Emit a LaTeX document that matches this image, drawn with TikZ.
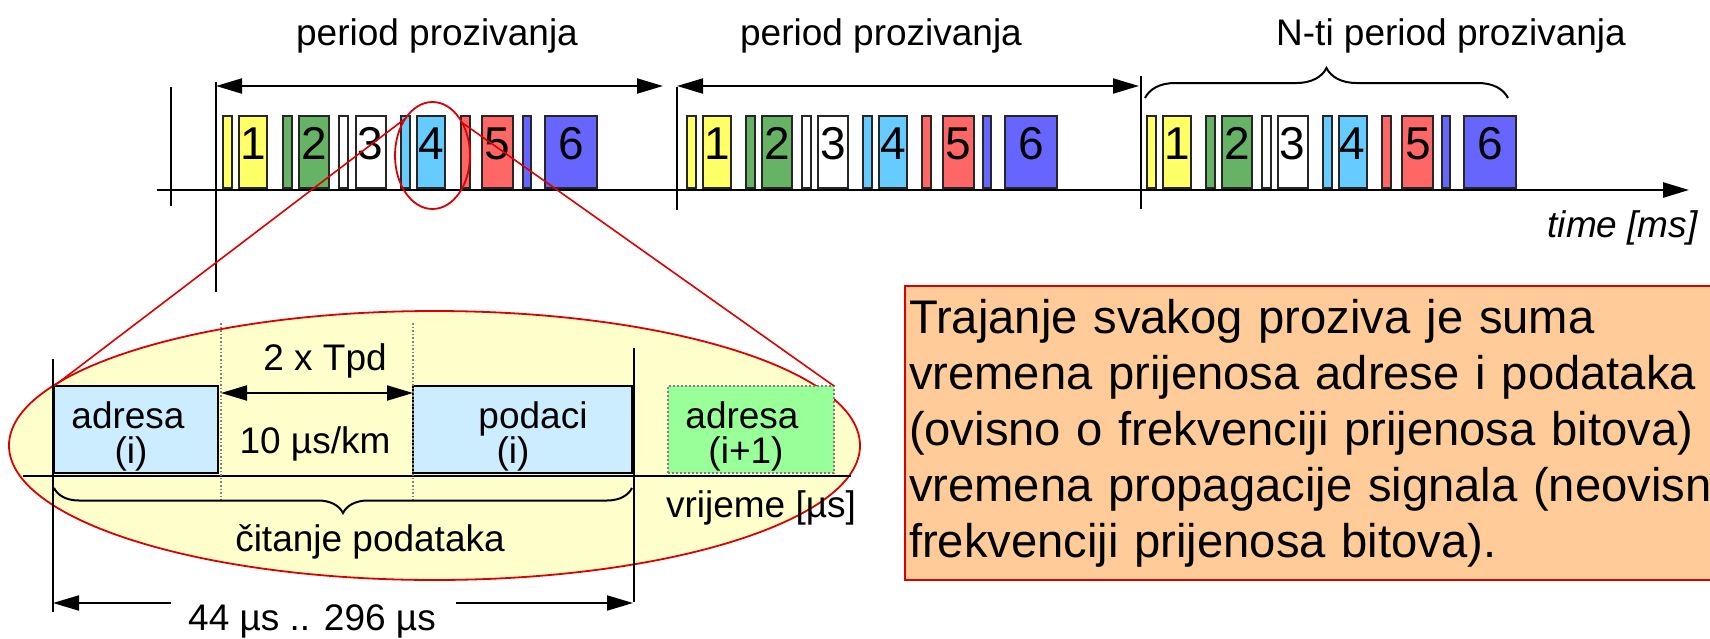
\documentclass[tikz,border=0pt]{standalone}
\usepackage{fontspec}
\setmainfont{Liberation Sans}
\usetikzlibrary{arrows.meta,shapes.geometric,decorations.pathreplacing}
\definecolor{cYel}{HTML}{FFFF66}
\definecolor{cGrn}{HTML}{66B366}
\definecolor{cCyn}{HTML}{66CCFF}
\definecolor{cRed}{HTML}{FF6666}
\definecolor{cBlu}{HTML}{6666FF}
\definecolor{cLtBlu}{HTML}{CCECFF}
\definecolor{cLtGrn}{HTML}{99FF99}
\definecolor{cZoom}{HTML}{DD0000}
\definecolor{cZoomBg}{HTML}{FFFFCC}
\definecolor{cNote}{HTML}{FFCC99}
\tikzset{
  slot/.style={draw=black!85, line width=1pt},
  digit/.style={font=\fontsize{23}{26}\selectfont, anchor=base, inner sep=0pt},
  lbl/.style={font=\fontsize{18.5}{21}\selectfont, anchor=base, inner sep=0pt},
  blk/.style={draw, line width=1pt, anchor=north west, inner sep=0pt, outer sep=0pt},
  tick/.style={line width=1pt},
  axis/.style={line width=1.3pt, -{Triangle[length=13pt,width=7.5pt]}},
  span/.style={{Triangle[length=13pt,width=7.5pt]}-{Triangle[length=13pt,width=7.5pt]}, line width=1pt},
  dimarr/.style={-{Triangle[length=13pt,width=7.5pt]}, line width=1pt},
  guide/.style={draw=gray, densely dotted, line width=0.8pt},
  brc/.style={decorate, line width=1pt},
  zoomell/.style={ellipse, draw=cZoom, line width=0.9pt, inner sep=0pt, outer sep=0pt},
  zoomln/.style={draw=cZoom, line width=0.8pt},
  notebox/.style={draw=cZoom, fill=cNote, line width=1pt, anchor=north west, align=left,
    text width=440pt, inner xsep=2pt, inner ysep=6.5pt,
    font=\fontsize{23.6}{28}\selectfont},
}

\begin{document}
\begin{tikzpicture}[x=0.5pt, y=-0.5pt]
    \useasboundingbox (0,0) rectangle (1710,638);
    \clip (0,0) rectangle (1710,638);
    % --- polling periods on the time axis ---
    \foreach \s/\f [count=\p] in {223/1.012, 687/1, 1147/0.998}{
      \foreach \o/\v/\q/\w/\col/\n in {0/9/16/28/cYel/1, 59/9/75/30/cGrn/2,
          115/9/131/30/white/3, 176/9/192/28/cCyn/4, 235/9/256/31/cRed/5,
          296/8/318/52/cBlu/6}{
        \draw[slot, fill=\col] (\s+\f*\o,116) rectangle (\s+\f*\o+\v,188);
        \draw[slot, fill=\col] (\s+\f*\q,116) rectangle (\s+\f*\q+\w,188);
        \node[digit] (d\p-\n) at (\s+\f*\q+\w/2,159) {\n};
      }
    }
    \draw[axis] (157,190) -- (1689,190);
    \draw[tick] (171,87) -- (171,206);
    \draw[tick] (216,82) -- (216,292);
    \draw[tick] (677,87) -- (677,210);
    \draw[tick] (1141,76) -- (1141,209);
    \draw[span] (216,86) -- (663,86);
    \draw[span] (677,86) -- (1139,86);
    \draw[brc, decoration={brace, amplitude=15pt}] (1145,98) -- (1508,98);
    \node[lbl] (per1) at (437,45) {period prozivanja};
    \node[lbl] (per2) at (881,45) {period prozivanja};
    \node[lbl] (perN) at (1451,45) {N-ti period prozivanja};
    \node[lbl, anchor=base east, font=\fontsize{18.5}{21}\selectfont\itshape] (tms) at (1698,237) {time [ms]};
    % --- zoomed poll ---
    \node[zoomell, minimum width=425.5pt, minimum height=134.5pt, fill=cZoomBg] (zbig) at (434.5,445.5) {};
    \node[blk, fill=cLtBlu, minimum width=82pt, minimum height=43.5pt] (adr) at (54,386) {};
    \node[blk, fill=cLtBlu, minimum width=109.5pt, minimum height=43.5pt] (pod) at (413,386) {};
    \node[blk, fill=cLtGrn, draw=gray, densely dotted, line width=0.8pt,
      minimum width=83pt, minimum height=43.5pt] (nxt) at (668,386) {};
    \draw[tick] (23,476) -- (851,476);
    \draw[guide] (221,323) -- (221,502);
    \draw[guide] (413,323) -- (413,502);
    \draw[tick] (53,359) -- (53,612);
    \draw[tick] (634,348) -- (634,602);
    \draw[span] (221,393) -- (413,393);
    \draw[brc, decoration={brace, mirror, amplitude=12.5pt}] (54,488) -- (632,488);
    \node[lbl] (adrT) at (128,428) {adresa};
    \node[lbl] (adrI) at (131,463) {(i)};
    \node[lbl] (podT) at (533,428) {podaci};
    \node[lbl] (podI) at (513,463) {(i)};
    \node[lbl] (nxtT) at (742,428) {adresa};
    \node[lbl] (nxtI) at (746,463) {(i+1)};
    \node[lbl] (tpd) at (325,370) {2 x Tpd};
    \node[lbl] (prop) at (315,453) {10 µs/km};
    \node[lbl] (vrij) at (761,517) {vrijeme [µs]};
    \node[lbl] (cit) at (370,551) {čitanje podataka};
    \node[lbl] (dur) at (312,630) {44 µs .. 296 µs};
    \coordinate (durL) at (53,603);
    \coordinate (durR) at (633,603);
    \draw[dimarr] (171,603) -- (durL);
    \draw[dimarr] (456,603) -- (durR);
    % --- zoom marker and its lines ---
    \node[zoomell, minimum width=37.5pt, minimum height=53.5pt] (zsmall) at (432.5,155.5) {};
    \draw[zoomln] (zsmall.126) -- (adr.north west);
    \draw[zoomln] (zsmall.48) -- (nxt.north east);
    % --- note ---
    \node[notebox] (note) at (904,285) {Trajanje svakog proziva je suma\\
      vremena prijenosa adrese i podataka\\
      (ovisno o frekvenciji prijenosa bitova)\\
      vremena propagacije signala (neovisno\\
      frekvenciji prijenosa bitova).};
  \end{tikzpicture}
\end{document}
